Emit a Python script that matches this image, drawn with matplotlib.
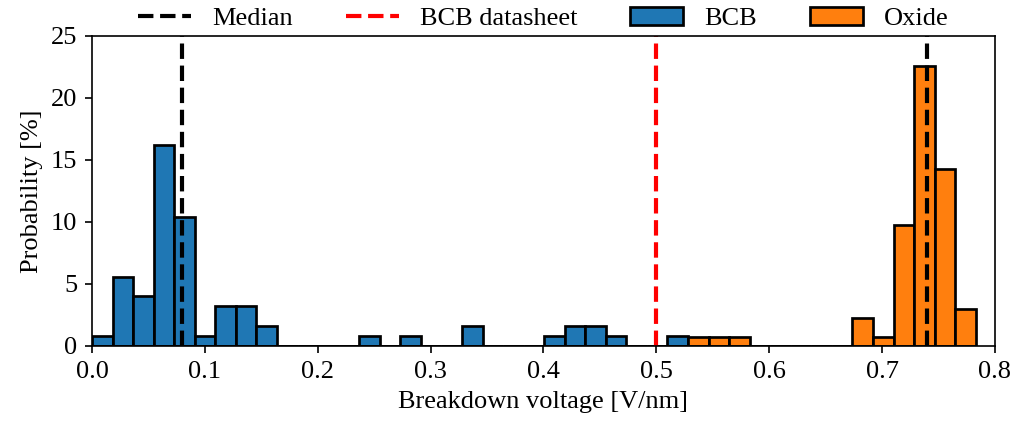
"""Breakdown voltage histogram for BCB and oxide samples."""

import numpy as np
import matplotlib
matplotlib.use("Agg")
import matplotlib.pyplot as plt

# Histogram bins shared by both materials (43 bins)
bin_lo = 0.0
bin_hi = 0.783
n_bins = 43

# Probability [%] per bin
bcb_prob = [
    0.8, 5.6, 4.0, 16.2, 10.4, 0.8, 3.2, 3.2, 1.6, 0.0,
    0.0, 0.0, 0.0, 0.8, 0.0, 0.8, 0.0, 0.0, 1.6, 0.0,
    0.0, 0.0, 0.8, 1.6, 1.6, 0.8, 0.0, 0.0, 0.8, 0.0,
    0.0, 0.0, 0.0, 0.0, 0.0, 0.0, 0.0, 0.0, 0.0, 0.0,
    0.0, 0.0, 0.0,
]
oxide_prob = [
    0.0, 0.0, 0.0, 0.0, 0.0, 0.0, 0.0, 0.0, 0.0, 0.0,
    0.0, 0.0, 0.0, 0.0, 0.0, 0.0, 0.0, 0.0, 0.0, 0.0,
    0.0, 0.0, 0.0, 0.0, 0.0, 0.0, 0.0, 0.0, 0.0, 0.75,
    0.75, 0.75, 0.0, 0.0, 0.0, 0.0, 0.0, 2.26, 0.75, 9.77,
    22.56, 14.29, 3.0,
]

# Medians and datasheet value [V/nm]
medians = [0.08, 0.74]
bcb_datasheet = 0.5

plt.rcParams["font.family"] = ["Liberation Serif", "DejaVu Serif"]
plt.rcParams["mathtext.fontset"] = "stix"
plt.rcParams["font.size"] = 12.7

edges = np.linspace(bin_lo, bin_hi, n_bins + 1)
centers = 0.5 * (edges[:-1] + edges[1:])

fig = plt.figure(figsize=(1019 / 150, 427 / 150), dpi=150)
ax = fig.add_axes([0.0903, 0.1897, 0.8861, 0.726])

ax.hist(centers, bins=edges, weights=bcb_prob, color="#1f77b4",
        edgecolor="black", linewidth=1.3, label="BCB")
ax.hist(centers, bins=edges, weights=oxide_prob, color="#ff7f0e",
        edgecolor="black", linewidth=1.3, label="Oxide")

for i, m in enumerate(medians):
    ax.axvline(m, color="black", linestyle="--", linewidth=2,
               label="Median" if i == 0 else None)
ax.axvline(bcb_datasheet, color="red", linestyle="--", linewidth=2,
           label="BCB datasheet")

ax.set_xlim(0, 0.8)
ax.set_ylim(0, 25)
ax.set_xticks(np.arange(0, 0.81, 0.1))
ax.set_yticks(range(0, 26, 5))
ax.set_xlabel("Breakdown voltage [V/nm]")
ax.set_ylabel("Probability [%]")

handles, labels = ax.get_legend_handles_labels()
order = [labels.index(k) for k in ["Median", "BCB datasheet", "BCB", "Oxide"]]
ax.legend([handles[i] for i in order], [labels[i] for i in order],
          loc="lower center", bbox_to_anchor=(0.5, 0.985), ncol=4,
          frameon=False, borderaxespad=0, columnspacing=2.0,
          handlelength=2.0)

fig.savefig("out.png", dpi=150)
